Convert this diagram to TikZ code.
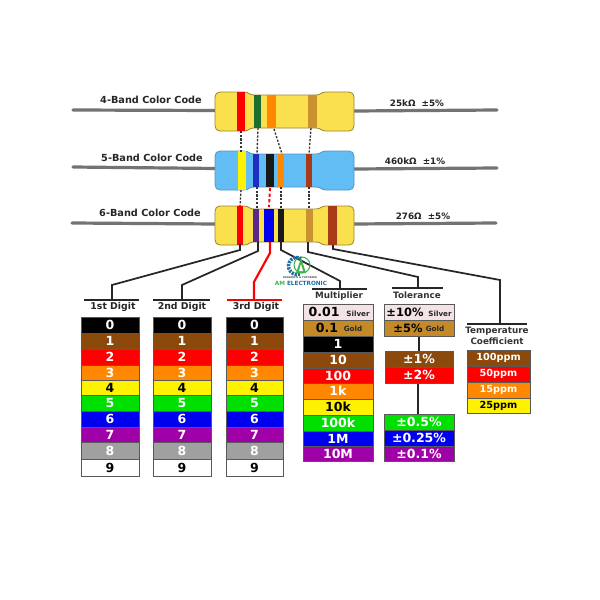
\documentclass[tikz,border=0pt]{standalone}
\usepackage{fontspec}
\setmainfont{DejaVu Sans}
\usetikzlibrary{calc}
\definecolor{bodyy}{HTML}{FBE04E}
\definecolor{bodyb}{HTML}{63BDF5}
\definecolor{rbrown}{HTML}{8B4A0B}
\definecolor{rorange}{HTML}{FF8800}
\definecolor{rgreen}{HTML}{00E000}
\definecolor{rblue}{HTML}{0000F0}
\definecolor{rviolet}{HTML}{A000A8}
\definecolor{rgray}{HTML}{A0A0A0}
\definecolor{rsilver}{HTML}{F3E3E6}
\definecolor{rgold}{HTML}{C48A28}
\definecolor{bandbrown}{HTML}{A83A18}
\definecolor{bandgold}{HTML}{C9922E}
\definecolor{bandgreen}{HTML}{1E6E30}
\definecolor{bandviolet}{HTML}{5A2A8A}
\definecolor{bandblue}{HTML}{1C2FC0}
\definecolor{logoblue}{HTML}{1F6F9F}
\definecolor{logogreen}{HTML}{3DB54A}
\tikzset{
  x=0.75pt,y=-0.75pt,
  lead/.style={draw=black!55,line width=2.4pt,line cap=round},
  conn/.style={draw=black!85,line width=1.3pt},
  head/.style={draw=black!85,line width=1pt},
  dots/.style={draw=black!80,line width=1pt,dash pattern=on 1.6pt off 1.2pt},
  reddots/.style={draw=red,line width=1.4pt,dash pattern=on 2.4pt off 1.8pt},
  bandlbl/.style={font=\bfseries\fontsize{7.3pt}{8pt}\selectfont,text=black!85,inner sep=0pt},
  lbl/.style={font=\bfseries\fontsize{7pt}{8pt}\selectfont,text=black!85,inner sep=0pt},
  tbl/.style={font=\bfseries\fontsize{6.6pt}{8pt}\selectfont,text=black!80,inner sep=0pt},
  val/.style={font=\bfseries\fontsize{6.6pt}{8pt}\selectfont,text=black!85,inner sep=0pt},
  cellw/.style={font=\bfseries\fontsize{9.4pt}{10pt}\selectfont,text=white,inner sep=0pt},
  cellk/.style={font=\bfseries\fontsize{9.4pt}{10pt}\selectfont,text=black,inner sep=0pt},
  tcw/.style={font=\bfseries\fontsize{7.3pt}{8pt}\selectfont,text=white,inner sep=0pt},
  tck/.style={font=\bfseries\fontsize{7.3pt}{8pt}\selectfont,text=black,inner sep=0pt},
  small/.style={font=\bfseries\fontsize{5.4pt}{6pt}\selectfont,text=black!85,inner sep=0pt},
}
% #1 top y, #2 body colour, #3 outline
\newcommand{\rbody}[3]{%
  \path[fill=#2,draw=#3,line width=0.6pt]
   (220,#1) -- (244,#1) .. controls (249,#1) and (249,#1+3) .. (254,#1+3)
   -- (316,#1+3) .. controls (321,#1+3) and (321,#1) .. (326,#1)
   -- (349,#1) .. controls (352,#1) and (354,#1+2) .. (354,#1+5)
   -- (354,#1+34) .. controls (354,#1+37) and (352,#1+39) .. (349,#1+39)
   -- (326,#1+39) .. controls (321,#1+39) and (321,#1+36) .. (316,#1+36)
   -- (254,#1+36) .. controls (249,#1+36) and (249,#1+39) .. (244,#1+39)
   -- (220,#1+39) .. controls (217,#1+39) and (215,#1+37) .. (215,#1+34)
   -- (215,#1+5) .. controls (215,#1+2) and (217,#1) .. (220,#1) -- cycle;}
% #1 x0 #2 x1 #3 y0 #4 y1 #5 colour
\newcommand{\rband}[5]{\fill[#5] (#1,#3) rectangle (#2,#4);}
% #1 name #2 x0 #3 x1 #4 y0 #5 y1 #6 fill #7 style #8 text
\newcommand{\rcell}[8]{%
  \path[fill=#6,draw=black!65,line width=0.7pt] (#2,#4) rectangle (#3,#5);
  \node[#7] (#1) at ({(#2+#3)/2},{(#4+#5)/2}) {#8};}
% box only
\newcommand{\rbox}[5]{\path[fill=#5,draw=black!65,line width=0.7pt] (#1,#3) rectangle (#2,#4);}
\newcommand{\digitcol}[3]{%
  \rcell{#1a}{#2}{#3}{317}{333}{black}{cellw}{0}
  \rcell{#1b}{#2}{#3}{333}{349}{rbrown}{cellw}{1}
  \rcell{#1c}{#2}{#3}{349}{365}{red}{cellw}{2}
  \rcell{#1d}{#2}{#3}{365}{380}{rorange}{cellw}{3}
  \rcell{#1e}{#2}{#3}{380}{395}{yellow}{cellk}{4}
  \rcell{#1f}{#2}{#3}{395}{411}{rgreen}{cellw}{5}
  \rcell{#1g}{#2}{#3}{411}{427}{rblue}{cellw}{6}
  \rcell{#1h}{#2}{#3}{427}{442}{rviolet}{cellw}{7}
  \rcell{#1i}{#2}{#3}{442}{459}{rgray}{cellw}{8}
  \rcell{#1j}{#2}{#3}{459}{476}{white}{cellk}{9}}
\begin{document}
\begin{tikzpicture}
\useasboundingbox (0,0) rectangle (600,600);
\fill[white] (0,0) rectangle (600,600);
% leads
\coordinate (l1a) at (73,110); \coordinate (l1b) at (216,110.5);
\coordinate (r1a) at (354,111); \coordinate (r1b) at (497,110);
\coordinate (l2a) at (73,167); \coordinate (l2b) at (216,168.5);
\coordinate (r2a) at (354,169); \coordinate (r2b) at (497,168);
\coordinate (l3a) at (72,223); \coordinate (l3b) at (216,224);
\coordinate (r3a) at (353,224); \coordinate (r3b) at (496,223);
\foreach \a/\b in {l1a/l1b,r1a/r1b,l2a/l2b,r2a/r2b,l3a/l3b,r3a/r3b}{\draw[lead] (\a) -- (\b);}
% bodies
\rbody{92}{bodyy}{black!40!bodyy}
\rbody{151}{bodyb}{black!20!bodyb}
\rbody{206}{bodyy}{black!40!bodyy}
% bands 4
\rband{237}{244.5}{92}{131}{red}
\rband{254}{261}{95}{128}{bandgreen}
\rband{267}{276}{95}{128}{rorange}
\rband{308}{317}{95}{128}{bandgold}
% bands 5
\rband{238}{246}{151}{190}{yellow}
\rband{253}{259}{154}{187}{bandblue}
\rband{266}{274}{154}{187}{black!90}
\rband{278}{284}{154}{187}{rorange}
\rband{306}{312}{154}{187}{bandbrown}
% bands 6
\rband{237}{243}{206}{245}{red}
\rband{253}{259}{209}{242}{bandviolet}
\rband{264}{274}{209}{242}{rblue}
\rband{278}{284}{209}{242}{black!90}
\rband{306}{313}{209}{242}{bandgold}
\rband{328}{337}{206}{245}{bandbrown}
% dotted links
\coordinate (d1a) at (241,131); \coordinate (d1b) at (241,152);
\coordinate (d2a) at (258,128); \coordinate (d2b) at (257,154);
\coordinate (d3a) at (274,129); \coordinate (d3b) at (282,154);
\coordinate (d4a) at (311,128); \coordinate (d4b) at (309,154);
\coordinate (d5a) at (241,190); \coordinate (d5b) at (240,206);
\coordinate (d6a) at (257,187); \coordinate (d6b) at (257,209);
\coordinate (d7a) at (281,187); \coordinate (d7b) at (281,209);
\coordinate (d8a) at (309,187); \coordinate (d8b) at (309,209);
\coordinate (d9a) at (270,188); \coordinate (d9b) at (269,207);
\foreach \a/\b in {d1a/d1b,d2a/d2b,d3a/d3b,d4a/d4b,d5a/d5b,d6a/d6b,d7a/d7b,d8a/d8b}{\draw[dots] (\a) -- (\b);}
\draw[reddots] (d9a) -- (d9b);
% labels
\node[bandlbl] (t4) at (151,100) {4-Band Color Code};
\node[bandlbl] (t5) at (152,158) {5-Band Color Code};
\node[bandlbl] (t6) at (150,213) {6-Band Color Code};
\node[val] (v4) at (417,103) {25kΩ\ \ ±5\%};
\node[val] (v5) at (415,161) {460kΩ\ \ ±1\%};
\node[val] (v6) at (423,216) {276Ω\ \ ±5\%};
% headers
\coordinate (h1a) at (84,300); \coordinate (h1b) at (139,300);
\coordinate (h2a) at (153,300); \coordinate (h2b) at (210,300);
\coordinate (h3a) at (227,300); \coordinate (h3b) at (282,300);
\coordinate (h4a) at (312,289); \coordinate (h4b) at (367,289);
\coordinate (h5a) at (392,288); \coordinate (h5b) at (443,288);
\coordinate (h6a) at (467,324); \coordinate (h6b) at (527,324);
\draw[head] (h1a) -- (h1b);
\draw[head] (h2a) -- (h2b);
\draw[head,draw=red] (h3a) -- (h3b);
\draw[head] (h4a) -- (h4b);
\draw[head] (h5a) -- (h5b);
\draw[head] (h6a) -- (h6b);
% band-to-table connectors
\coordinate (c1) at (240,244); \coordinate (c2) at (258,242);
\coordinate (c3) at (270,242); \coordinate (c4) at (281,242);
\coordinate (c5) at (308,242); \coordinate (c6) at (333,245);
\draw[conn] (c1) -- (240,250) -- (112,285) -- (112,300);
\draw[conn] (c2) -- (258,251) -- (182,285) -- (182,300);
\draw[conn,draw=red,line width=1.6pt] (c3) -- (270,253) -- (254,282) -- (254,300);
\draw[conn] (c4) -- (281,250) -- (340,281) -- (340,289);
\draw[conn] (c5) -- (308,252) -- (418,277) -- (418,288);
\draw[conn] (c6) -- (333,249) -- (500,280) -- (500,324);
% table titles
\node[lbl] (n1) at (113,307) {1st Digit};
\node[lbl] (n2) at (182,307) {2nd Digit};
\node[lbl] (n3) at (256,307) {3rd Digit};
\node[tbl] (n4) at (339,296) {Multiplier};
\node[tbl] (n5) at (417,295) {Tolerance};
\node[tbl] (n6a) at (497,331) {Temperature};
\node[tbl] (n6b) at (497,341) {Coefficient};
% digits
\digitcol{p}{81}{139}
\digitcol{q}{153}{211}
\digitcol{s}{226}{283}
% multiplier
\rbox{303}{373}{304}{320}{rsilver}
\node[cellk] (m1) at (324,312) {0.01};
\node[small] (m1s) at (358,314) {Silver};
\rbox{303}{373}{320}{336}{rgold}
\node[cellk] (m2) at (327,328) {0.1};
\node[small] (m2s) at (353,329) {Gold};
\rcell{m3}{303}{373}{336}{352}{black}{cellw}{1}
\rcell{m4}{303}{373}{352}{368}{rbrown}{cellw}{10}
\rcell{m5}{303}{373}{368}{383}{red}{cellw}{100}
\rcell{m6}{303}{373}{383}{399}{rorange}{cellw}{1k}
\rcell{m7}{303}{373}{399}{415}{yellow}{cellk}{10k}
\rcell{m8}{303}{373}{415}{431}{rgreen}{cellw}{100k}
\rcell{m9}{303}{373}{431}{446}{rblue}{cellw}{1M}
\rcell{m10}{303}{373}{446}{461}{rviolet}{cellw}{10M}
% tolerance links
\coordinate (tl1a) at (419,336); \coordinate (tl1b) at (419,351);
\coordinate (tl2a) at (418,383); \coordinate (tl2b) at (418,414);
\draw[conn,line width=1.8pt] (tl1a) -- (tl1b);
\draw[conn,line width=1.8pt] (tl2a) -- (tl2b);
% tolerance
\rbox{384}{454}{304}{320}{rsilver}
\node[cellk,font=\bfseries\fontsize{8.6pt}{10pt}\selectfont] (o1) at (405,312) {±10\%};
\node[small] (o1s) at (440,314) {Silver};
\rbox{384}{454}{320}{336}{rgold}
\node[cellk,font=\bfseries\fontsize{8.6pt}{10pt}\selectfont] (o2) at (408,328) {±5\%};
\node[small] (o2s) at (435,329) {Gold};
\rcell{o3}{385}{453}{351}{367}{rbrown}{cellw}{±1\%}
\rcell{o4}{385}{453}{367}{383}{red}{cellw}{±2\%}
\rcell{o5}{384}{454}{414}{430}{rgreen}{cellw}{±0.5\%}
\rcell{o6}{384}{454}{430}{446}{rblue}{cellw}{±0.25\%}
\rcell{o7}{384}{454}{446}{461}{rviolet}{cellw}{±0.1\%}
% temp coefficient
\rcell{u1}{467}{530}{350}{366}{rbrown}{tcw}{100ppm}
\rcell{u2}{467}{530}{366}{382}{red}{tcw}{50ppm}
\rcell{u3}{467}{530}{382}{398}{rorange}{tcw}{15ppm}
\rcell{u4}{467}{530}{398}{413}{yellow}{tck}{25ppm}
% logo
\draw[logogreen,line width=0.8pt] (302,265) circle (8);
\draw[logoblue,line width=2.6pt,dash pattern=on 1.6pt off 0.8pt] (297,266) ++(70:8.5) arc (70:300:8.5);
\fill[logogreen] (301,258) -- (306,273) -- (296,273) -- cycle;
\fill[white] (301,264) -- (303,271) -- (299,271) -- cycle;
\node[font=\bfseries\fontsize{1.9pt}{2pt}\selectfont,text=black!70,inner sep=0pt] (lg1) at (300,278) {RESEARCH \& TUTORING};
\node[font=\bfseries\fontsize{4.3pt}{5pt}\selectfont,inner sep=0pt] (lg2) at (301,283.5) {\textcolor{logogreen}{AM} \textcolor{logoblue}{ELECTRONIC}};
\end{tikzpicture}
\end{document}
